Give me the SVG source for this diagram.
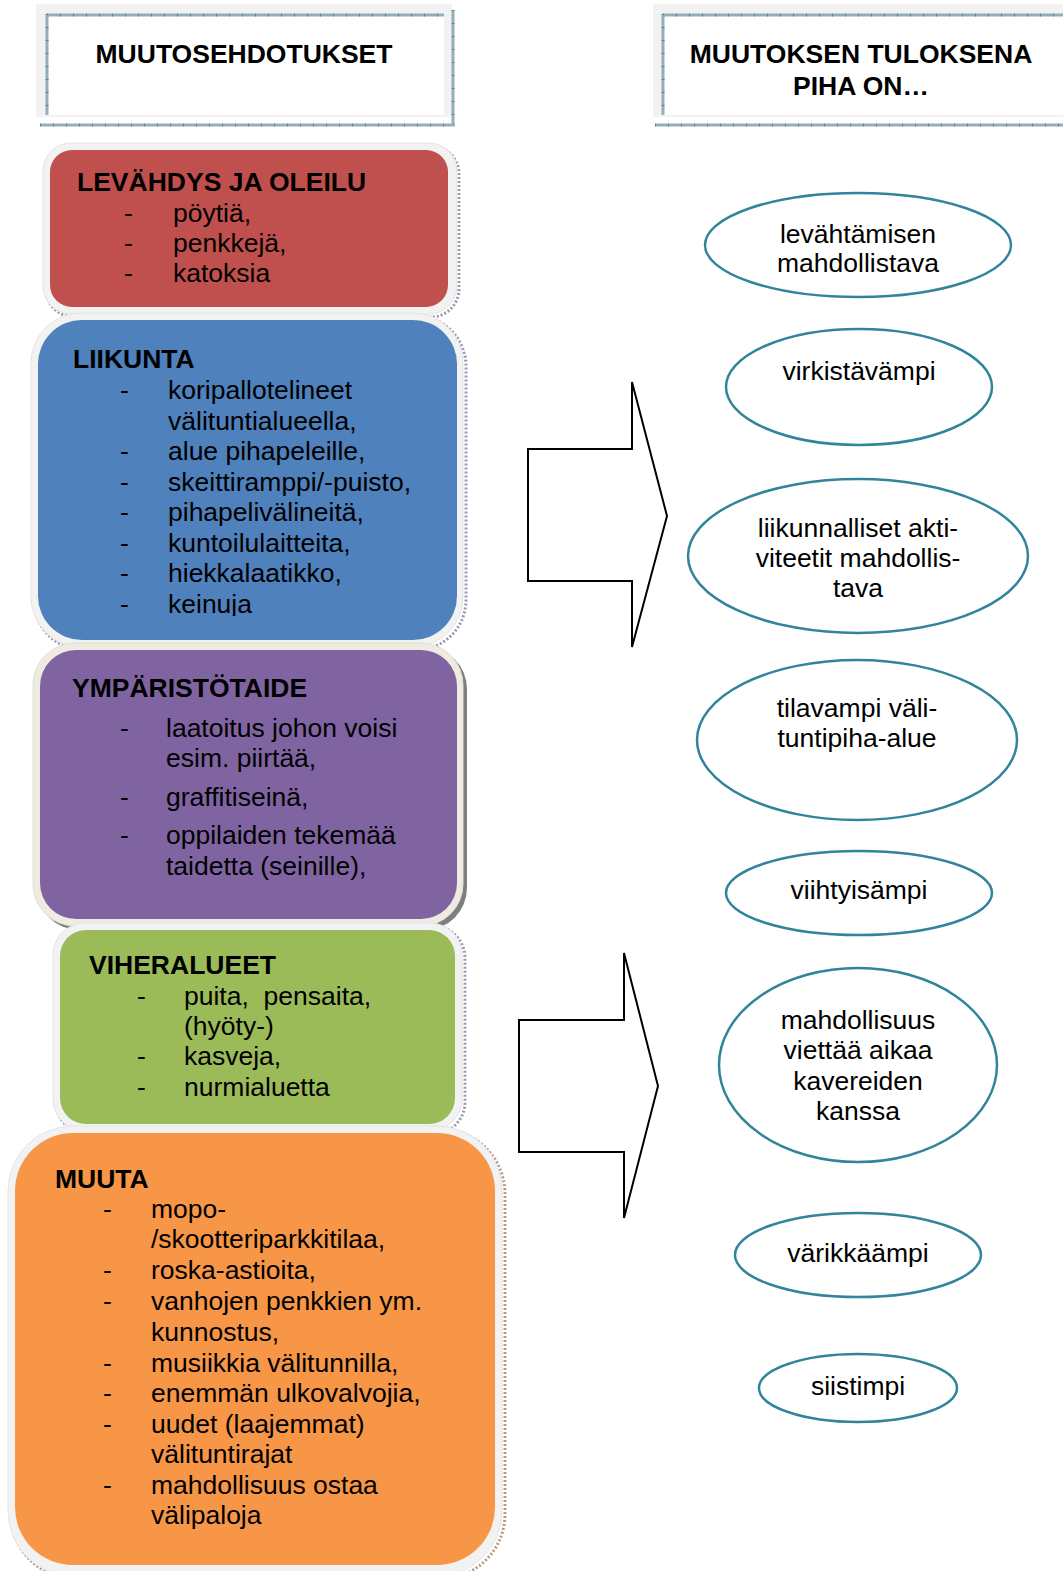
<svg xmlns="http://www.w3.org/2000/svg" width="1063" height="1571" viewBox="0 0 1063 1571">
<style>
text{font-family:"Liberation Sans",Arial,sans-serif;font-size:26.5px;fill:#000}
.b{font-weight:bold}
.c{text-anchor:middle}
.halo{fill:#f2f2f2;stroke:#e4e4e4;stroke-width:1}
.sh{fill:none;stroke:#9a9ab0;stroke-width:3;stroke-dasharray:2 2}
.ell{fill:#fff;stroke:#31849b;stroke-width:2.5}
.arr{fill:#fff;stroke:#000;stroke-width:2;stroke-linejoin:miter}
.pb{stroke:#93aeb6;stroke-width:3}
.pt{stroke:#5d8794;stroke-width:3;stroke-dasharray:1 12}
</style>
<defs>
<clipPath id="clipBlue"><rect x="38" y="320" width="419" height="296"/></clipPath>
</defs>
<rect width="1063" height="1571" fill="#fff"/>

<g id="header-left">
<rect x="36" y="4" width="416" height="113" fill="#f2f2f2"/>
<rect x="46" y="14" width="398" height="101" fill="#fff"/>
<line class="pb" x1="47" y1="15" x2="444" y2="15"/><line class="pt" x1="47" y1="15" x2="444" y2="15"/>
<line class="pb" x1="47" y1="14" x2="47" y2="115"/><line class="pt" x1="47" y1="14" x2="47" y2="115"/>
<line class="pb" x1="40" y1="125" x2="455" y2="125"/><line class="pt" x1="40" y1="125" x2="455" y2="125"/>
<line class="pb" x1="453" y1="10" x2="453" y2="126"/><line class="pt" x1="453" y1="10" x2="453" y2="126"/>
<text class="b c" x="244" y="63">MUUTOSEHDOTUKSET</text>
</g>

<g id="header-right">
<rect x="653" y="4" width="410" height="113" fill="#f2f2f2"/>
<rect x="662" y="14" width="401" height="101" fill="#fff"/>
<line class="pb" x1="663" y1="15" x2="1063" y2="15"/><line class="pt" x1="663" y1="15" x2="1063" y2="15"/>
<line class="pb" x1="663" y1="14" x2="663" y2="115"/><line class="pt" x1="663" y1="14" x2="663" y2="115"/>
<line class="pb" x1="655" y1="125" x2="1063" y2="125"/><line class="pt" x1="655" y1="125" x2="1063" y2="125"/>
<text class="b c" x="861" y="63">MUUTOKSEN TULOKSENA</text>
<text class="b c" x="861" y="95">PIHA ON…</text>
</g>

<g id="box-levahdys">
<rect class="sh" x="46" y="146" width="413" height="171" rx="28"/>
<rect class="halo" x="43" y="143" width="414" height="171" rx="28"/>
<rect x="50" y="150" width="398" height="157" rx="22" fill="#c0504d"/>
<text class="b" x="77" y="191">LEVÄHDYS JA OLEILU</text>
<text x="124" y="222">-</text><text x="173" y="222">pöytiä,</text>
<text x="124" y="252">-</text><text x="173" y="252">penkkejä,</text>
<text x="124" y="282">-</text><text x="173" y="282">katoksia</text>
</g>

<g id="box-liikunta">
<rect class="sh" x="34" y="316" width="432" height="334" rx="50"/>
<rect class="halo" x="31" y="313" width="432" height="334" rx="50"/>
<rect x="38" y="320" width="419" height="320" rx="44" fill="#4f81bd"/>
<text class="b" x="73" y="368">LIIKUNTA</text>
<g clip-path="url(#clipBlue)">
<text x="120" y="399">-</text><text x="168" y="399">koripallotelineet</text>
<text x="168" y="430">välituntialueella,</text>
<text x="120" y="460">-</text><text x="168" y="460">alue pihapeleille,</text>
<text x="120" y="491">-</text><text x="168" y="491">skeittiramppi/-puisto,</text>
<text x="120" y="521">-</text><text x="168" y="521">pihapelivälineitä,</text>
<text x="120" y="552">-</text><text x="168" y="552">kuntoilulaitteita,</text>
<text x="120" y="582">-</text><text x="168" y="582">hiekkalaatikko,</text>
<text x="120" y="613">-</text><text x="168" y="613">keinuja</text>
</g>
</g>

<g id="box-ymparistotaide">
<rect x="37" y="647" width="430" height="283" rx="42" fill="#7f7f7f"/>
<rect x="33" y="643" width="430" height="283" rx="42" fill="#eeece1" stroke="#e2e0d4"/>
<rect x="40" y="650" width="417" height="269" rx="36" fill="#8064a2"/>
<text class="b" x="72" y="697">YMPÄRISTÖTAIDE</text>
<text x="120" y="737">-</text><text x="166" y="737">laatoitus johon voisi</text>
<text x="166" y="767">esim. piirtää,</text>
<text x="120" y="806">-</text><text x="166" y="806">graffitiseinä,</text>
<text x="120" y="844">-</text><text x="166" y="844">oppilaiden tekemää</text>
<text x="166" y="875">taidetta (seinille),</text>
</g>

<g id="box-viheralueet">
<rect class="sh" x="56" y="926" width="409" height="208" rx="32"/>
<rect class="halo" x="53" y="923" width="409" height="208" rx="32"/>
<rect x="60" y="930" width="395" height="194" rx="26" fill="#9bbb59"/>
<text class="b" x="89" y="974">VIHERALUEET</text>
<text x="137" y="1005">-</text><text x="184" y="1005" style="white-space:pre">puita,  pensaita,</text>
<text x="184" y="1035">(hyöty-)</text>
<text x="137" y="1065">-</text><text x="184" y="1065">kasveja,</text>
<text x="137" y="1096">-</text><text x="184" y="1096">nurmialuetta</text>
</g>

<g id="box-muuta">
<rect class="sh" x="11" y="1129" width="494" height="450" rx="65" style="stroke:#b89a80"/>
<rect class="halo" x="8" y="1126" width="494" height="450" rx="65"/>
<rect x="15" y="1133" width="480" height="432" rx="58" fill="#f79646"/>
<text class="b" x="55" y="1188">MUUTA</text>
<text x="103" y="1218">-</text><text x="151" y="1218">mopo-</text>
<text x="151" y="1248">/skootteriparkkitilaa,</text>
<text x="103" y="1279">-</text><text x="151" y="1279">roska-astioita,</text>
<text x="103" y="1310">-</text><text x="151" y="1310">vanhojen penkkien ym.</text>
<text x="151" y="1341">kunnostus,</text>
<text x="103" y="1372">-</text><text x="151" y="1372">musiikkia välitunnilla,</text>
<text x="103" y="1402">-</text><text x="151" y="1402">enemmän ulkovalvojia,</text>
<text x="103" y="1433">-</text><text x="151" y="1433">uudet (laajemmat)</text>
<text x="151" y="1463">välituntirajat</text>
<text x="103" y="1494">-</text><text x="151" y="1494">mahdollisuus ostaa</text>
<text x="151" y="1524">välipaloja</text>
</g>

<g id="connectors">
<polygon class="arr" points="528,449 632,449 632,382 667,516 632,647 632,581 528,581"/>
<polygon class="arr" points="519,1020 624,1020 624,953 658,1086 624,1218 624,1152 519,1152"/>
</g>

<g id="e-levahtamisen">
<ellipse class="ell" cx="858" cy="245" rx="153" ry="52"/>
<text class="c" x="858" y="243">levähtämisen</text>
<text class="c" x="858" y="272">mahdollistava</text>
</g>
<g id="e-virkistavampi">
<ellipse class="ell" cx="859" cy="387" rx="133" ry="58"/>
<text class="c" x="859" y="380">virkistävämpi</text>
</g>
<g id="e-liikunnalliset">
<ellipse class="ell" cx="858" cy="556" rx="170" ry="77"/>
<text class="c" x="858" y="537">liikunnalliset akti-</text>
<text class="c" x="858" y="567">viteetit mahdollis-</text>
<text class="c" x="858" y="597">tava</text>
</g>
<g id="e-tilavampi">
<ellipse class="ell" cx="857" cy="740" rx="160" ry="80"/>
<text class="c" x="857" y="717">tilavampi väli-</text>
<text class="c" x="857" y="747">tuntipiha-alue</text>
</g>
<g id="e-viihtyisampi">
<ellipse class="ell" cx="859" cy="893" rx="133" ry="42"/>
<text class="c" x="859" y="899">viihtyisämpi</text>
</g>
<g id="e-mahdollisuus">
<ellipse class="ell" cx="858" cy="1065" rx="139" ry="97"/>
<text class="c" x="858" y="1029">mahdollisuus</text>
<text class="c" x="858" y="1059">viettää aikaa</text>
<text class="c" x="858" y="1090">kavereiden</text>
<text class="c" x="858" y="1120">kanssa</text>
</g>
<g id="e-varikkaampi">
<ellipse class="ell" cx="858" cy="1255" rx="123" ry="42"/>
<text class="c" x="858" y="1262">värikkäämpi</text>
</g>
<g id="e-siistimpi">
<ellipse class="ell" cx="858" cy="1388" rx="99" ry="34"/>
<text class="c" x="858" y="1395">siistimpi</text>
</g>
</svg>
